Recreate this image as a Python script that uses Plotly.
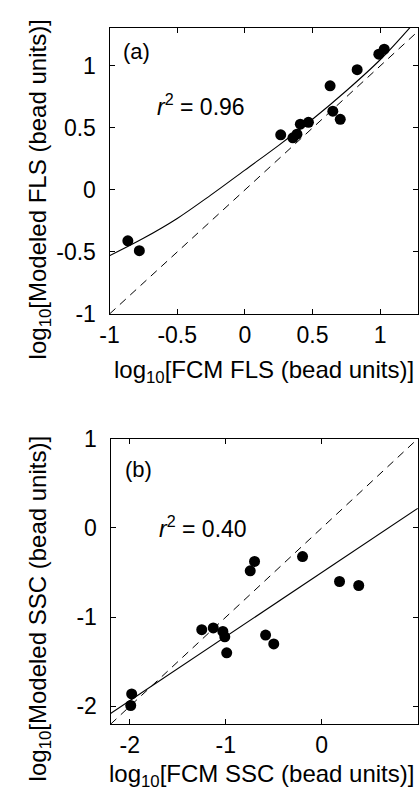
import plotly.graph_objects as go

# ---- Panel (a) data ----
fls_fcm = [-0.865, -0.78, 0.265, 0.355, 0.385, 0.41, 0.47, 0.63, 0.65, 0.705, 0.83, 0.99, 1.03]
fls_mod = [-0.41, -0.49, 0.445, 0.42, 0.45, 0.53, 0.545, 0.84, 0.635, 0.57, 0.97, 1.095, 1.135]
fls_fit_x = [-1.0, -0.75, -0.5, -0.25, 0.0, 0.25, 0.5, 0.75, 1.0, 1.22]
fls_fit_y = [-0.53, -0.39, -0.23, -0.04, 0.16, 0.36, 0.57, 0.80, 1.05, 1.31]
fls_one_x = [-1.0, 1.31]
fls_one_y = [-1.0, 1.31]
fls_xticks = [-1, -0.5, 0, 0.5, 1]
fls_yticks = [-1, -0.5, 0, 0.5, 1]

# ---- Panel (b) data ----
ssc_fcm = [-1.98, -1.99, -1.25, -1.13, -1.03, -1.01, -0.99, -0.745, -0.70, -0.585, -0.50, -0.20, 0.185, 0.385]
ssc_mod = [-1.86, -1.99, -1.14, -1.12, -1.16, -1.22, -1.40, -0.48, -0.375, -1.20, -1.30, -0.32, -0.60, -0.645]
ssc_fit_x = [-2.2, 1.0]
ssc_fit_y = [-2.08, 0.22]
ssc_one_x = [-2.2, 1.0]
ssc_one_y = [-2.2, 1.0]
ssc_xticks = [-2, -1, 0, 1]
ssc_yticks = [-2, -1, 0, 1]

W, H = 420, 804
FONT = "Liberation Sans, Arial, sans-serif"

def px(x):
    return x / W

def py(y):
    return 1 - y / H

fig = go.Figure()

def add_panel(xa, ya, sx, sy, fx, fy, ox, oy):
    fig.add_trace(go.Scatter(x=ox, y=oy, mode="lines", xaxis=xa, yaxis=ya,
                             line=dict(color="black", width=1, dash="8px,6px"),
                             showlegend=False, hoverinfo="skip"))
    fig.add_trace(go.Scatter(x=fx, y=fy, mode="lines", xaxis=xa, yaxis=ya,
                             line=dict(color="black", width=1.1, shape="spline"),
                             showlegend=False, hoverinfo="skip"))
    fig.add_trace(go.Scatter(x=sx, y=sy, mode="markers", xaxis=xa, yaxis=ya,
                             marker=dict(color="black", size=11),
                             showlegend=False))

add_panel("x", "y", fls_fcm, fls_mod, fls_fit_x, fls_fit_y, fls_one_x, fls_one_y)
add_panel("x2", "y2", ssc_fcm, ssc_mod, ssc_fit_x, ssc_fit_y, ssc_one_x, ssc_one_y)

axis_common = dict(showline=True, linecolor="black", linewidth=1.2, mirror="ticks",
                   ticks="inside", ticklen=5, tickwidth=1, tickcolor="black",
                   showgrid=False, zeroline=False,
                   tickfont=dict(family=FONT, size=23, color="black"))

fig.update_layout(
    width=W, height=H,
    margin=dict(l=0, r=0, t=0, b=0),
    paper_bgcolor="white", plot_bgcolor="white",
    font=dict(family=FONT, color="black"),
    xaxis=dict(domain=[px(102), px(418)], range=[-1, 1.28], anchor="y",
               tickvals=fls_xticks, ticktext=["-1", "-0.5", "0", "0.5", "1"],
               **axis_common),
    yaxis=dict(domain=[py(311), py(15)], range=[-1, 1.31], anchor="x",
               tickvals=fls_yticks, ticktext=["-1", "-0.5", "0", "0.5", "1"],
               ticklabelstandoff=8, **axis_common),
    xaxis2=dict(domain=[px(103), px(418)], range=[-2.2, 1.003], anchor="y2",
                tickvals=ssc_xticks, ticktext=["-2", "-1", "0", "1"],
                **axis_common),
    yaxis2=dict(domain=[py(735), py(440)], range=[-2.2, 1.0], anchor="x2",
                tickvals=ssc_yticks, ticktext=["-2", "-1", "0", "1"],
                ticklabelstandoff=8, **axis_common),
)

def note(text, x, y, size=22, angle=0):
    fig.add_annotation(text=text, x=px(x), y=py(y), xref="paper", yref="paper",
                       showarrow=False, textangle=angle, xanchor="center", yanchor="middle",
                       font=dict(family=FONT, size=size, color="black"))

note("(a)", 130, 40)
note("<i>r</i><sup>2</sup> = 0.96", 196, 95, size=23)
note("log<sub>10</sub>[FCM FLS (bead units)]", 260, 370, size=24)
note("log<sub>10</sub>[Modeled FLS (bead units)]", 30, 182, size=24, angle=-90)

note("(b)", 132, 472)
note("<i>r</i><sup>2</sup> = 0.40", 198, 531, size=23)
note("log<sub>10</sub>[FCM SSC (bead units)]", 258, 788, size=24)
note("log<sub>10</sub>[Modeled SSC (bead units)]", 30, 615, size=24, angle=-90)

fig.write_html("out.html")
